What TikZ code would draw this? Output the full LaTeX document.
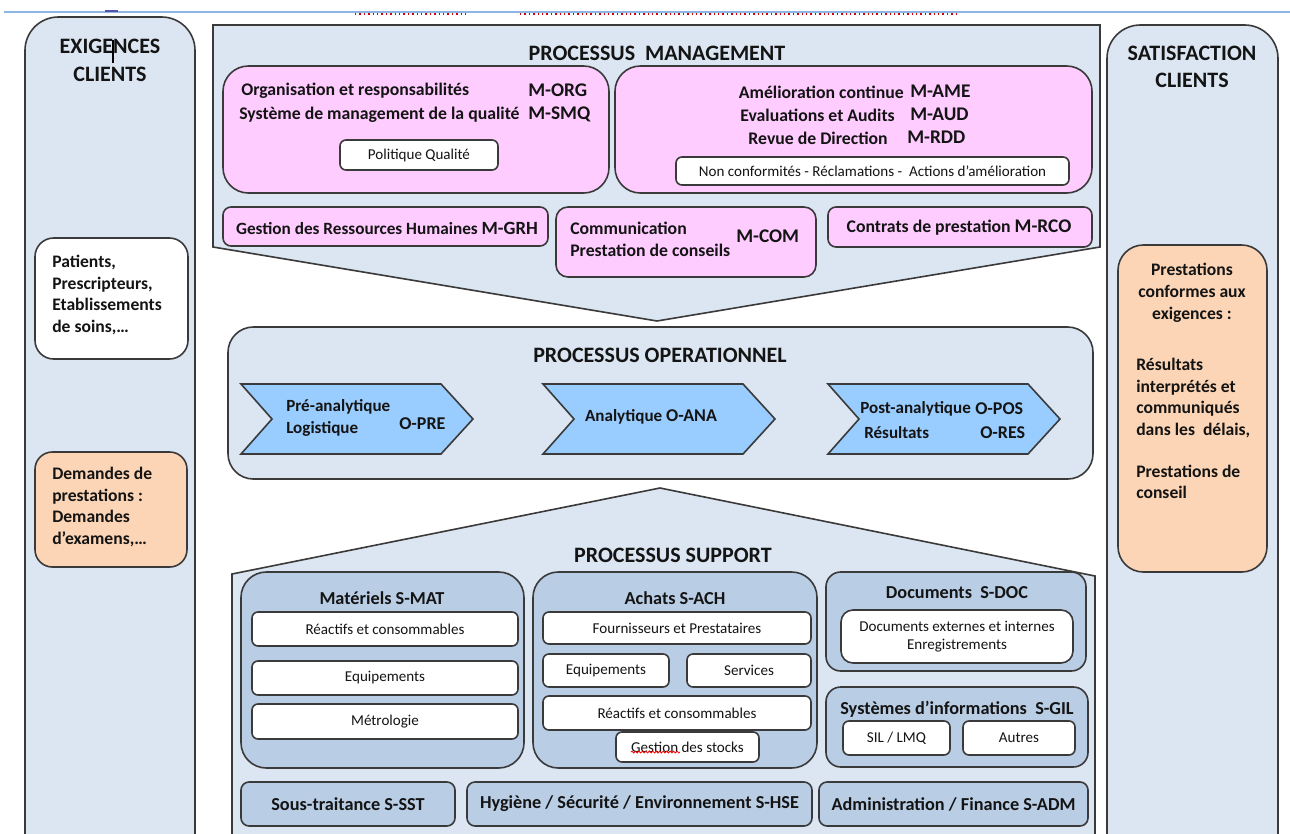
\documentclass[tikz,border=0pt]{standalone}
\usepackage{fontspec}
\setmainfont{Carlito}
\usetikzlibrary{fit,decorations.pathmorphing}

\definecolor{edge}{HTML}{3A3A3A}
\definecolor{panel}{HTML}{DCE6F2}
\definecolor{rose}{HTML}{FFCCFF}
\definecolor{peach}{HTML}{FBD5B5}
\definecolor{arrowblue}{HTML}{99CCFF}
\definecolor{steel}{HTML}{B9CDE5}
\definecolor{rulecol}{HTML}{8EB4E3}
\definecolor{ink}{HTML}{141414}

\newcommand\fs[2]{\fontsize{#1}{#2}\selectfont}

\begin{document}
\begin{tikzpicture}[x=0.75pt,y=-0.75pt,
  box/.style={draw=edge, line width=1.2pt, inner sep=0pt, outer sep=0pt},
  colpanel/.style={box, fill=panel, rounded corners=25pt},
  rosebig/.style={box, fill=rose, rounded corners=19pt},
  rosesmall/.style={box, fill=rose, rounded corners=6pt},
  rosemid/.style={box, fill=rose, rounded corners=9pt},
  whitebox/.style={box, fill=white, rounded corners=4.5pt},
  peachbox/.style={box, fill=peach, rounded corners=16pt},
  opbox/.style={box, fill=panel, rounded corners=19pt},
  steelbig/.style={box, fill=steel, rounded corners=19pt},
  steelmid/.style={box, fill=steel, rounded corners=11pt},
  steelsmall/.style={box, fill=steel, rounded corners=6pt},
  panelshape/.style={draw=edge, line width=1.2pt, fill=panel, line join=miter},
  chevron/.style={draw=edge, line width=1.2pt, fill=arrowblue},
  txt/.style={inner sep=0pt, text=ink},
  bigtitle/.style={txt, font=\bfseries\fs{16.5}{20}},
  pinktxt/.style={txt, font=\bfseries\fs{13.3}{16}},
  codetxt/.style={txt, font=\bfseries\fs{14.5}{17}},
  wtxt/.style={txt, font=\fs{11.3}{13.5}},
  subttl/.style={txt, font=\bfseries\fs{13.7}{17}},
  sidetxt/.style={txt, font=\bfseries\fs{13.2}{16.3}, align=left},
  optxt/.style={txt, font=\bfseries\fs{12.8}{15}},
  opcode/.style={txt, font=\bfseries\fs{13.5}{16}}]

\useasboundingbox (0,0) rectangle (1290,833);
\clip (0,0) rectangle (1290,833);

% page rule and marks along the top edge
\draw[rulecol, line width=0.8pt] (4,12) -- (1290,12);
\draw[red!85!black, line width=1.1pt, dash pattern=on 1.1pt off 2.2pt] (355,14) -- (467,14);
\draw[red!85!black, line width=1.1pt, dash pattern=on 1.1pt off 2.2pt] (520,14) -- (957,14);
\fill[blue!35!gray] (105,10) rectangle (118,12);

% ---------- left column: customer requirements ----------
\node[colpanel, fit={(25,17) (195,880)}] (req) {};
\node[bigtitle] (reqT1) at (110,46) {EXIGENCES};
\node[bigtitle] (reqT2) at (110,74) {CLIENTS};
\draw[black, line width=1.6pt] (113,40) -- (113,63);

\node[whitebox, rounded corners=14pt, fit={(35,238) (188,359)}] (who) {};
\node[sidetxt, anchor=west] (whoT) at (52,295) {Patients,\\Prescripteurs,\\Etablissements\\de soins,…};

\node[peachbox, rounded corners=13pt, fit={(35,452) (187,567)}] (dem) {};
\node[sidetxt, anchor=west] (demT) at (52,507) {Demandes de\\prestations :\\Demandes\\d’examens,…};

% ---------- right column: customer satisfaction ----------
\node[colpanel, fit={(1107,25) (1278,880)}] (sat) {};
\node[bigtitle] (satT1) at (1192,53) {SATISFACTION};
\node[bigtitle] (satT2) at (1192,80) {CLIENTS};

\node[peachbox, rounded corners=19pt, fit={(1118,245) (1267,572)}] (conf) {};
\node[sidetxt, align=center] (confA) at (1192,293) {Prestations\\conformes aux\\exigences :};
\node[sidetxt, anchor=west] (confB) at (1136,398) {Résultats\\interprétés et\\communiqués\\dans les\ \ délais,};
\node[sidetxt, anchor=west] (confC) at (1136,482) {Prestations de\\conseil};

% ---------- management processes ----------
\path[panelshape] (213,25) -- (1100,25) -- (1100,247) -- (657,321) -- (213,247) -- cycle;
\node[bigtitle] (mgmtT) at (657,53) {PROCESSUS\ \ MANAGEMENT};

\node[rosebig, fit={(223,66) (609,193)}] (org) {};
\node[pinktxt, anchor=west] (orgA) at (241,91) {Organisation et responsabilités};
\node[pinktxt, anchor=west] (orgB) at (239,115) {Système de management de la qualité};
\node[codetxt, anchor=west] (orgC) at (528,90) {M-ORG};
\node[codetxt, anchor=west] (orgD) at (528,114) {M-SMQ};
\node[whitebox, fit={(340,140) (498,170)}] (pol) {};
\node[wtxt] (polT) at (pol) {Politique Qualité};

\node[rosebig, fit={(615,66) (1092,193)}] (ame) {};
\node[pinktxt, anchor=east] (ameA) at (904,92) {Amélioration continue};
\node[pinktxt, anchor=east] (ameB) at (895,115) {Evaluations et Audits};
\node[pinktxt, anchor=east] (ameC) at (888,138) {Revue de Direction};
\node[codetxt, anchor=west] (ameD) at (910,91) {M-AME};
\node[codetxt, anchor=west] (ameE) at (910,114) {M-AUD};
\node[codetxt, anchor=west] (ameF) at (907,137) {M-RDD};
\node[whitebox, fit={(676,157) (1069,185)}] (nc) {};
\node[wtxt] (ncT) at (nc) {Non conformités - Réclamations -\ \ Actions d’amélioration};

\node[rosesmall, fit={(223,207) (548,246)}] (grh) {};
\node[pinktxt, font=\bfseries\fs{12.9}{16}] (grhT) at (387,228) {Gestion des Ressources Humaines {\fs{14}{17}M-GRH}};

\node[rosemid, fit={(556,207) (816,277)}] (com) {};
\node[pinktxt, anchor=west] (comA) at (570,228) {Communication};
\node[pinktxt, anchor=west] (comB) at (570,250) {Prestation de conseils};
\node[codetxt, anchor=west] (comC) at (736,236) {M-COM};

\node[rosesmall, fit={(828,207) (1092,247)}] (rco) {};
\node[pinktxt] (rcoT) at (959,228) {Contrats de prestation {\fs{14.5}{17}M-RCO}};

% ---------- operational processes ----------
\node[opbox, fit={(228,327) (1093,479)}] (ope) {};
\node[bigtitle] (opeT) at (660,355) {PROCESSUS OPERATIONNEL};

\path[chevron] (241,384) -- (441,384) -- (473,419) -- (441,454) -- (241,454) -- (272,419) -- cycle;
\path[chevron] (543,384) -- (743,384) -- (775,419) -- (743,454) -- (543,454) -- (574,419) -- cycle;
\path[chevron] (828,384) -- (1028,384) -- (1060,419) -- (1028,454) -- (828,454) -- (859,419) -- cycle;

\node[optxt, anchor=west] (preA) at (286,407) {Pré-analytique};
\node[optxt, anchor=west] (preB) at (286,429) {Logistique};
\node[opcode, anchor=west] (preC) at (399,424) {O-PRE};
\node[optxt] (anaT) at (651,417) {Analytique {\fs{13.5}{16}O-ANA}};
\node[optxt, anchor=west] (posA) at (860,409) {Post-analytique};
\node[opcode, anchor=west] (posB) at (975,409) {O-POS};
\node[optxt, anchor=west] (posC) at (864,433) {Résultats};
\node[opcode, anchor=west] (posD) at (980,433) {O-RES};

% ---------- support processes ----------
\path[panelshape] (232,900) -- (232,574) -- (660,488) -- (1095,576) -- (1095,900) -- cycle;
\node[bigtitle] (supT) at (673,555) {PROCESSUS SUPPORT};

\node[steelbig, fit={(241,572) (524,768)}] (mat) {};
\node[subttl] (matT) at (382,598) {Matériels S-MAT};
\node[whitebox, fit={(252,612) (518,646)}] (matA) {};
\node[wtxt] at (matA) {Réactifs et consommables};
\node[whitebox, fit={(252,661) (518,695)}] (matB) {};
\node[wtxt] at (matB) {Equipements};
\node[whitebox, fit={(252,704) (518,739)}] (matC) {};
\node[wtxt] at (matC) {Métrologie};

\node[steelbig, fit={(533,572) (817,768)}] (ach) {};
\node[subttl] (achT) at (675,598) {Achats S-ACH};
\node[whitebox, fit={(543,612) (811,644)}] (achA) {};
\node[wtxt] at (achA) {Fournisseurs et Prestataires};
\node[whitebox, fit={(543,654) (669,687)}] (achB) {};
\node[wtxt] at (achB) {Equipements};
\node[whitebox, fit={(687,654) (811,687)}] (achC) {};
\node[wtxt] at (achC) {Services};
\node[whitebox, fit={(543,696) (811,730)}] (achD) {};
\node[wtxt] at (achD) {Réactifs et consommables};
\node[whitebox, fit={(616,732) (759,762)}] (achE) {};
\node[wtxt] (achET) at (achE) {Gestion des stocks};
\draw[red, line width=0.6pt, decorate, decoration={snake, amplitude=0.7pt, segment length=2.6pt}]
  (achET.south west) ++(0,-0.5) -- ++(49,0);

\node[steelmid, fit={(826,572) (1086,671)}] (doc) {};
\node[subttl] (docT) at (957,593) {Documents\ \ S-DOC};
\node[whitebox, rounded corners=9pt, fit={(841,610) (1073,663)}] (docA) {};
\node[wtxt, align=center] at (docA) {Documents externes et internes\\Enregistrements};

\node[steelmid, fit={(826,687) (1088,767)}] (gil) {};
\node[subttl] (gilT) at (957,709) {Systèmes d’informations\ \ S-GIL};
\node[whitebox, fit={(843,721) (950,755)}] (gilA) {};
\node[wtxt] at (gilA) {SIL / LMQ};
\node[whitebox, fit={(963,721) (1075,755)}] (gilB) {};
\node[wtxt] at (gilB) {Autres};

\node[steelsmall, fit={(241,782) (455,826)}] (sst) {};
\node[subttl] at (sst) {Sous-traitance S-SST};
\node[steelsmall, fit={(467,782) (812,826)}] (hse) {};
\node[subttl] at (hse) {Hygiène / Sécurité / Environnement S-HSE};
\node[steelsmall, fit={(819,782) (1088,826)}] (adm) {};
\node[subttl] at (adm) {Administration / Finance S-ADM};

\end{tikzpicture}
\end{document}
